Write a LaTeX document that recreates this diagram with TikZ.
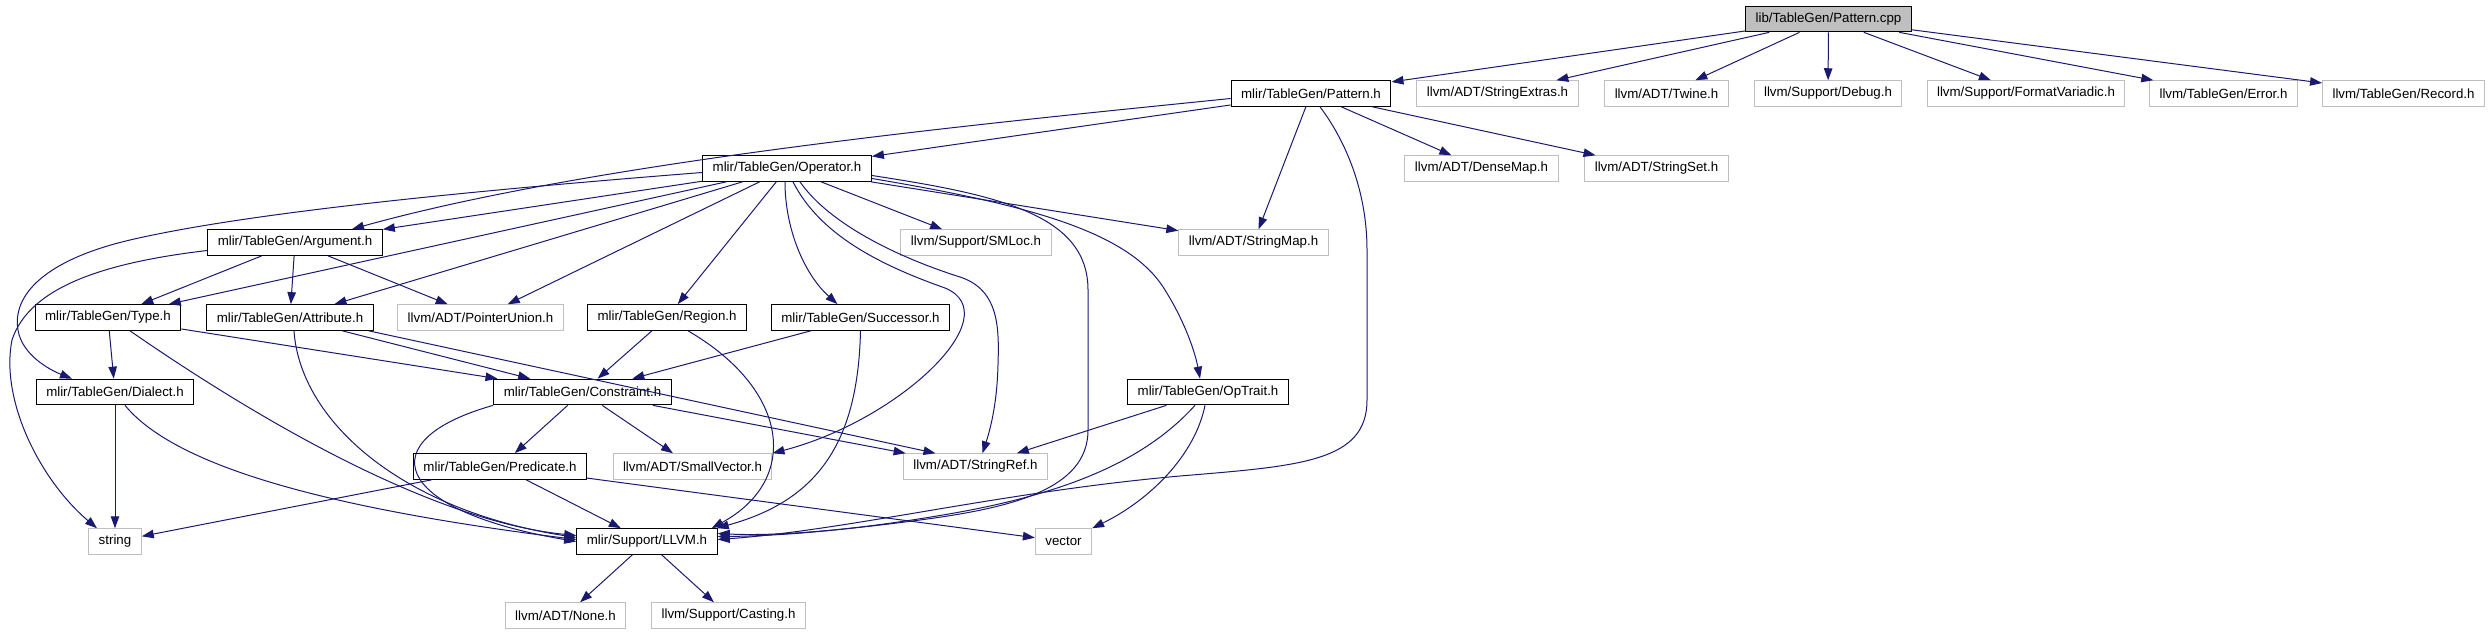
\documentclass[tikz,border=0pt]{standalone}
\usepackage{fontspec}
\setmainfont{Liberation Sans}
\usepackage{tikz}
\usetikzlibrary{arrows.meta}
\definecolor{incblue}{HTML}{191970}
\definecolor{extgray}{HTML}{BFBFBF}
\tikzset{
  incbox/.style={draw=black, line width=1.2bp, minimum height=25.5bp,
                 inner xsep=10bp, inner ysep=0pt, fill=white,
                 font=\fontsize{13.3bp}{16bp}\selectfont},
  extbox/.style={incbox, draw=extgray, line width=1bp},
  rootbox/.style={incbox, fill=extgray},
  incl/.style={-{Triangle[length=12bp,width=8.5bp]}, line width=1bp, draw=incblue},
}

\begin{document}
\begin{tikzpicture}[x=1bp, y=-1bp]
  \useasboundingbox (0,0) rectangle (2490,635);

  % Headers, row by row
  \node[rootbox] (cpp) at (1828.5,19) {lib/TableGen/Pattern.cpp};

  \node[incbox] (patternh) at (1311,93.5) {mlir/TableGen/Pattern.h};
  \node[extbox] (strextras) at (1497.5,93.5) {llvm/ADT/StringExtras.h};
  \node[extbox] (twine) at (1666.5,93.5) {llvm/ADT/Twine.h};
  \node[extbox] (debug) at (1828,93.5) {llvm/Support/Debug.h};
  \node[extbox] (fmtvariadic) at (2026,93.5) {llvm/Support/FormatVariadic.h};
  \node[extbox] (tgerror) at (2223.5,93.5) {llvm/TableGen/Error.h};
  \node[extbox] (tgrecord) at (2403.5,93.5) {llvm/TableGen/Record.h};

  \node[incbox] (operator) at (787,168.5) {mlir/TableGen/Operator.h};
  \node[extbox] (densemap) at (1481.5,168.5) {llvm/ADT/DenseMap.h};
  \node[extbox] (stringset) at (1656.5,168.5) {llvm/ADT/StringSet.h};

  \node[incbox] (argument) at (295,242.5) {mlir/TableGen/Argument.h};
  \node[extbox] (smloc) at (976,242.5) {llvm/Support/SMLoc.h};
  \node[extbox] (stringmap) at (1253.5,242.5) {llvm/ADT/StringMap.h};

  \node[incbox] (type) at (108,317.5) {mlir/TableGen/Type.h};
  \node[incbox] (attribute) at (290,317.5) {mlir/TableGen/Attribute.h};
  \node[extbox] (pointerunion) at (480.5,317.5) {llvm/ADT/PointerUnion.h};
  \node[incbox] (region) at (667,317.5) {mlir/TableGen/Region.h};
  \node[incbox] (successor) at (860.5,317.5) {mlir/TableGen/Successor.h};

  \node[incbox] (dialect) at (115,392) {mlir/TableGen/Dialect.h};
  \node[incbox] (constraint) at (582.5,392) {mlir/TableGen/Constraint.h};
  \node[incbox] (optrait) at (1208,392) {mlir/TableGen/OpTrait.h};

  \node[incbox] (predicate) at (500,466.5) {mlir/TableGen/Predicate.h};
  \node[extbox] (smallvector) at (692.5,466.5) {llvm/ADT/SmallVector.h};
  \node[extbox] (stringref) at (975.5,466.5) {llvm/ADT/StringRef.h};

  \node[extbox] (string) at (115,541.5) {string};
  \node[incbox] (llvmh) at (647,541.5) {mlir/Support/LLVM.h};
  \node[extbox] (vector) at (1063.5,541.5) {vector};

  \node[extbox] (none) at (565.5,615.5) {llvm/ADT/None.h};
  \node[extbox] (casting) at (728.5,615.5) {llvm/Support/Casting.h};

  % Straight includes
  \foreach \t in {patternh,strextras,twine,debug,fmtvariadic,tgerror,tgrecord}
    \draw[incl] (cpp) -- (\t);
  \foreach \t in {operator,stringmap,densemap,stringset}
    \draw[incl] (patternh) -- (\t);
  \foreach \t in {argument,type,attribute,pointerunion,region,smloc,stringmap}
    \draw[incl] (operator) -- (\t);
  \foreach \t in {type,attribute,pointerunion}
    \draw[incl] (argument) -- (\t);
  \draw[incl] (type) -- (dialect);
  \draw[incl] (type) -- (constraint);
  \draw[incl] (attribute) -- (constraint);
  \draw[incl] ([xshift=-5bp]attribute.south east) -- ([xshift=-40bp]stringref.north);
  \draw[incl] (region) -- (constraint);
  \draw[incl] (successor) -- (constraint);
  \draw[incl] (dialect) -- (string);
  \foreach \t in {predicate,smallvector,stringref}
    \draw[incl] (constraint) -- (\t);
  \foreach \t in {string,llvmh,vector}
    \draw[incl] (predicate) -- (\t);
  \draw[incl] (optrait) -- (stringref);
  \draw[incl] (llvmh) -- (none);
  \draw[incl] (llvmh) -- (casting);

  % Routed includes
  \draw[incl] ([yshift=-5bp]patternh.west) .. controls (1000,122) and (600,160) .. ([xshift=57bp]argument.north);
  \draw[incl] ([xshift=9bp]patternh.south) .. controls (1345,140) and (1367,190) .. (1367,250)
    -- (1367,400) .. controls (1367,462) and (1300,466) .. (1180,476)
    .. controls (1000,492) and (850,530) .. ([yshift=2bp]llvmh.east);
  \draw[incl] ([yshift=-4bp]operator.west) .. controls (480,190) and (250,212) .. (130,240)
    .. controls (45,260) and (12,295) .. (18,330)
    .. controls (22,355) and (50,370) .. ([xshift=-43bp]dialect.north);
  \draw[incl] ([yshift=-8bp]argument.west) .. controls (110,262) and (30,285) .. (12,340)
    .. controls (0,400) and (40,480) .. ([xshift=-18bp]string.north);
  \draw[incl] ([xshift=-2bp]operator.south) .. controls (785,230) and (805,275) .. ([xshift=-23bp]successor.north);
  \draw[incl] ([xshift=6bp]operator.south) .. controls (820,235) and (880,265) .. (945,288)
    .. controls (1010,315) and (900,420) .. (smallvector.north east);
  \draw[incl] ([xshift=13bp]operator.south) .. controls (830,225) and (900,258) .. (960,277)
    .. controls (1000,290) and (999,330) .. (998,365)
    .. controls (997,405) and (990,430) .. ([xshift=7bp]stringref.north);
  \draw[incl] ([yshift=-7bp]operator.east) .. controls (1000,195) and (1088,215) .. (1088,290)
    -- (1088,430) .. controls (1088,490) and (1010,508) .. (920,520)
    .. controls (830,532) and (770,536) .. ([yshift=8bp]llvmh.east);
  \draw[incl] ([yshift=-10bp]operator.east) .. controls (1030,205) and (1130,232) .. (1165,290)
    .. controls (1185,322) and (1195,352) .. ([xshift=-8bp]optrait.north);
  \draw[incl] ([xshift=22bp]type.south) .. controls (230,400) and (420,520) .. ([yshift=6bp]llvmh.west);
  \draw[incl] ([xshift=4bp]attribute.south) .. controls (300,420) and (400,510) .. ([yshift=4bp]llvmh.west);
  \draw[incl] ([xshift=10bp]dialect.south) .. controls (170,460) and (300,505) .. ([yshift=2bp]llvmh.west);
  \draw[incl] (constraint.south west) .. controls (370,440) and (390,510) .. (llvmh.west);
  \draw[incl] ([xshift=21bp]region.south) .. controls (790,390) and (800,480) .. ([xshift=-6bp]llvmh.north east);
  \draw[incl] (successor.south) .. controls (858,440) and (820,500) .. ([xshift=-1bp]llvmh.north east);
  \draw[incl] ([xshift=-13bp]optrait.south) .. controls (1150,455) and (1080,490) .. (960,512)
    .. controls (860,530) and (780,536) .. ([yshift=5bp]llvmh.east);
  \draw[incl] ([xshift=-3bp]optrait.south) .. controls (1195,455) and (1150,500) .. (vector.north east);
\end{tikzpicture}
\end{document}
